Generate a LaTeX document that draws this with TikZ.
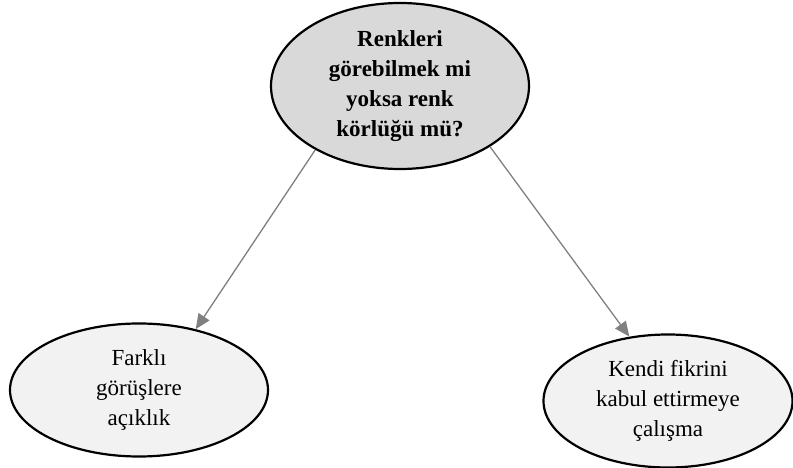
\documentclass[tikz,border=0pt]{standalone}
\usepackage{fontspec}
\setmainfont{Liberation Serif}
\usetikzlibrary{shapes,arrows.meta,positioning}

\begin{document}
\begin{tikzpicture}[
    x=1pt, y=-1pt,
    idea/.style={draw, ellipse, line width=2.2pt, inner sep=0pt, align=center, font=\fontsize{23}{30}\selectfont},
    question/.style={idea, fill=black!15, minimum width=258pt, minimum height=166pt, font=\fontsize{23}{30}\selectfont\bfseries},
    answer/.style={idea, fill=black!5, minimum height=133pt},
    arrow/.style={draw, gray, line width=1.3pt, -{Triangle[length=15pt,width=13pt]}}
]
    \useasboundingbox (0,0) rectangle (793,468);
    % Nodes
    \node[question] (q) at (400,86) {Renkleri\\görebilmek mi\\yoksa renk\\körlüğü mü?};
    \node[answer, minimum width=258pt] (open) at (139,390) {Farklı\\görüşlere\\açıklık};
    \node[answer, minimum width=249pt] (push) at (668,401) {Kendi fikrini\\kabul ettirmeye\\çalışma};

    % Connections
    \path[arrow] (q.217) -- (open.47);
    \path[arrow] (q.326) -- (push.121);
\end{tikzpicture}
\end{document}
